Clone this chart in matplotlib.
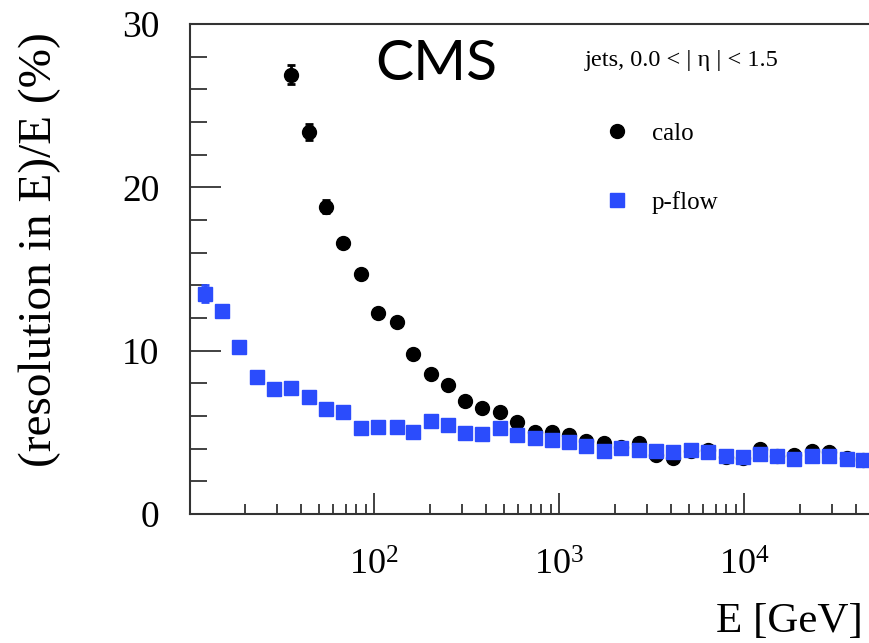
import matplotlib
matplotlib.use("Agg")
import matplotlib.pyplot as plt
from matplotlib.lines import Line2D
from matplotlib.ticker import MultipleLocator, LogLocator

plt.rcParams['font.family'] = ['Liberation Serif', 'DejaVu Serif']
plt.rcParams['mathtext.default'] = 'regular'

# energy bins (GeV)
energy = [12.2, 15.1, 18.6, 23.3, 28.8, 35.6, 44.5, 55.1, 67.9, 85.1,
          105, 132, 163, 203, 251, 310, 384, 480, 593, 742,
          916, 1132, 1400, 1750, 2163, 2704, 3340, 4130, 5170, 6390,
          8000, 9890, 12200, 15070, 18620, 23330, 28800, 36000, 44000]

# particle flow resolution (%)
pflow = [13.5, 12.4, 10.2, 8.4, 7.65, 7.7, 7.15, 6.43, 6.25, 5.27,
         5.33, 5.3, 5.05, 5.7, 5.45, 4.95, 4.9, 5.27, 4.84, 4.65,
         4.53, 4.4, 4.16, 3.86, 4.04, 3.92, 3.86, 3.8, 3.92, 3.8,
         3.55, 3.5, 3.67, 3.55, 3.37, 3.55, 3.55, 3.37, 3.3]
pflow_err = [0.5] + [0.1] * 38

# calorimeter resolution (%), starts at the 6th bin
calo_energy = energy[5:]
calo = [26.9, 23.4, 18.8, 16.6, 14.7, 12.3, 11.76, 9.8, 8.6, 7.9,
        6.92, 6.5, 6.25, 5.63, 5.0, 5.0, 4.84, 4.5, 4.35, 4.1,
        4.35, 3.6, 3.43, 3.86, 3.9, 3.5, 3.43, 4.0, 3.55, 3.6,
        3.86, 3.8, 3.43, 3.3]
calo_err = [0.6, 0.5, 0.4] + [0.1] * 31

blue = '#2b4cfc'

fig = plt.figure(figsize=(8.69, 6.43), dpi=100)
# axes runs past the right edge of the figure, like the cropped original
# 185 px per decade, 10.1 .. 8e4
ax = fig.add_axes([190/869, 129/643, 720/869, 490/643])

ax.errorbar(calo_energy, calo, yerr=calo_err, fmt='o', color='black',
            ms=10, elinewidth=2, capsize=3, capthick=2, zorder=2)
ax.errorbar(energy, pflow, yerr=pflow_err, fmt='s', color=blue,
            ms=10.5, elinewidth=2, capsize=3, capthick=2, zorder=3)

ax.set_xscale('log')
ax.set_xlim(10.1, 10.1 * 10 ** (720 / 185))
ax.set_ylim(0, 30)

ax.yaxis.set_major_locator(MultipleLocator(10))
ax.yaxis.set_minor_locator(MultipleLocator(2))
ax.xaxis.set_minor_locator(LogLocator(subs=range(2, 10)))

for s in ax.spines.values():
    s.set_color('#333333')
    s.set_linewidth(1.5)
ax.tick_params(which='both', direction='in', color='#333333', width=1.3,
               top=False, right=False)
ax.tick_params(axis='y', which='major', length=22, pad=22, labelsize=27)
ax.tick_params(axis='y', which='minor', length=12)
ax.tick_params(axis='x', which='major', length=15, pad=26, labelsize=26)
ax.tick_params(axis='x', which='minor', length=7)

fig.text(40/869, 1 - 250/643, '(resolution in E)/E (%)', rotation=90,
         fontsize=34, ha='center', va='center')
fig.text(716/869, 1 - 632/643, 'E [GeV]', fontsize=31, ha='left',
         va='baseline')
fig.text(436/869, 1 - 65/643, 'CMS', fontsize=41, family='Lato',
         ha='center', va='center')
fig.text(585/869, 1 - 66/643, 'jets, 0.0 < | η | < 1.5', fontsize=17.5,
         ha='left', va='baseline')

handles = [Line2D([], [], ls='none', marker='o', color='black', ms=10),
           Line2D([], [], ls='none', marker='s', color=blue, ms=10)]
ax.legend(handles, ['calo', 'p-flow'], loc='upper left',
          bbox_to_anchor=(592/869, 1 - 110/643),
          bbox_transform=fig.transFigure, frameon=False, fontsize=18,
          handlelength=1.0, handletextpad=0.9, labelspacing=1.85,
          borderpad=0)

fig.savefig('out.png', dpi=100)
